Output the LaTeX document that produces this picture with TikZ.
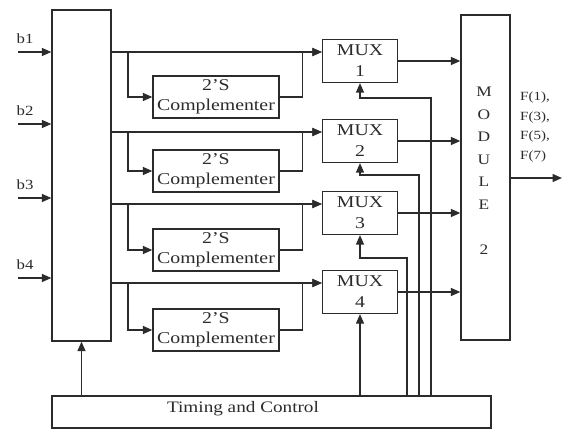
\documentclass[tikz,border=0pt]{standalone}
\usepackage{fontspec}
\setmainfont{Liberation Serif}[FakeStretch=1.2]
\usetikzlibrary{arrows.meta}
\definecolor{ink}{HTML}{2B2B2B}
\tikzset{
  box/.style={draw=ink, line width=1.3pt, rectangle, inner sep=0pt, text=ink, align=center},
  wire/.style={draw=ink, line width=1.3pt},
  arr/.style={wire, -{Triangle[length=9.5pt,width=8pt]}},
  lbl/.style={text=ink, inner sep=0pt},
}
\begin{document}
\begin{tikzpicture}[x=1pt,y=-1pt]
\useasboundingbox (0,0) rectangle (564,430);
% main blocks
\node[box, minimum width=59pt, minimum height=331pt] (L) at (81.5,175.5) {};
\node[box, minimum width=49pt, minimum height=325pt] (M) at (485.5,177.5) {};
\node[lbl, font=\fontsize{14.5}{22.5}\selectfont, align=center, anchor=north] (Mtxt) at (484,87) {M\\O\\D\\U\\L\\E\\[22.5pt]2};
\node[box, minimum width=439pt, minimum height=32pt] (T) at (271.5,412) {};
\node[lbl, font=\fontsize{16}{18}\selectfont] (Ttxt) at (243,409) {Timing and Control};
% complementers
\foreach \i/\y in {1/97,2/171,3/250,4/330}{
  \node[box, minimum width=126pt, minimum height=42pt, font=\fontsize{16.5}{20}\selectfont] (C\i) at (216,\y) {2'S\\Complementer};
}
% muxes
\foreach \i/\y in {1/61,2/141,3/213,4/292}{
  \node[box, minimum width=75pt, minimum height=43pt, font=\fontsize{16.5}{21}\selectfont] (X\i) at (360,\y) {MUX\\\i};
}
% inputs
\foreach \i/\y in {1/52,2/124,3/198,4/278}{
  \coordinate (b\i) at (18,\y);
  \draw[arr] (b\i) -- (L.west |- b\i);
  \node[lbl, font=\fontsize{14}{15}\selectfont] (bl\i) at (25,\y-13) {b\i};
}
% lines from left block to muxes and complementers
\foreach \i/\y in {1/52,2/132,3/204,4/283}{
  \coordinate (s\i) at (111,\y);
  \coordinate (j\i) at (128,\y);
  \draw[arr] (L.east |- s\i) -- (X\i.west |- s\i);
  \draw[arr] (j\i) |- (C\i.west);
}
% complementer outputs to mux lower inputs
\foreach \i in {1,2,3,4}{
  \coordinate (k\i) at ([xshift=23pt]C\i.east);
  \draw[arr] (C\i.east) -- (k\i) |- ([yshift=9pt]X\i.west);
}
% mux outputs to module
\foreach \i in {1,2,3,4}{
  \draw[arr] (X\i.east) -- (X\i.east -| M.west);
}
% control lines
\coordinate (t1) at (431,98);
\coordinate (t2) at (419,175);
\coordinate (t3) at (407,258);
\foreach \i in {1,2,3}{
  \draw[arr] (T.north -| t\i) -- (t\i) -- (t\i -| X\i.south) -- (X\i.south);
}
\draw[arr] (T.north -| X4.south) -- (X4.south);
\draw[arr] (T.north -| L.south) -- (L.south);
% output
\coordinate (out) at (562,178);
\draw[arr] (M.east |- out) -- (out);
\node[lbl, font=\fontsize{12.5}{19.5}\selectfont, align=left, anchor=north west] (F) at (520,92) {F(1),\\F(3),\\F(5),\\F(7)};
\end{tikzpicture}
\end{document}
